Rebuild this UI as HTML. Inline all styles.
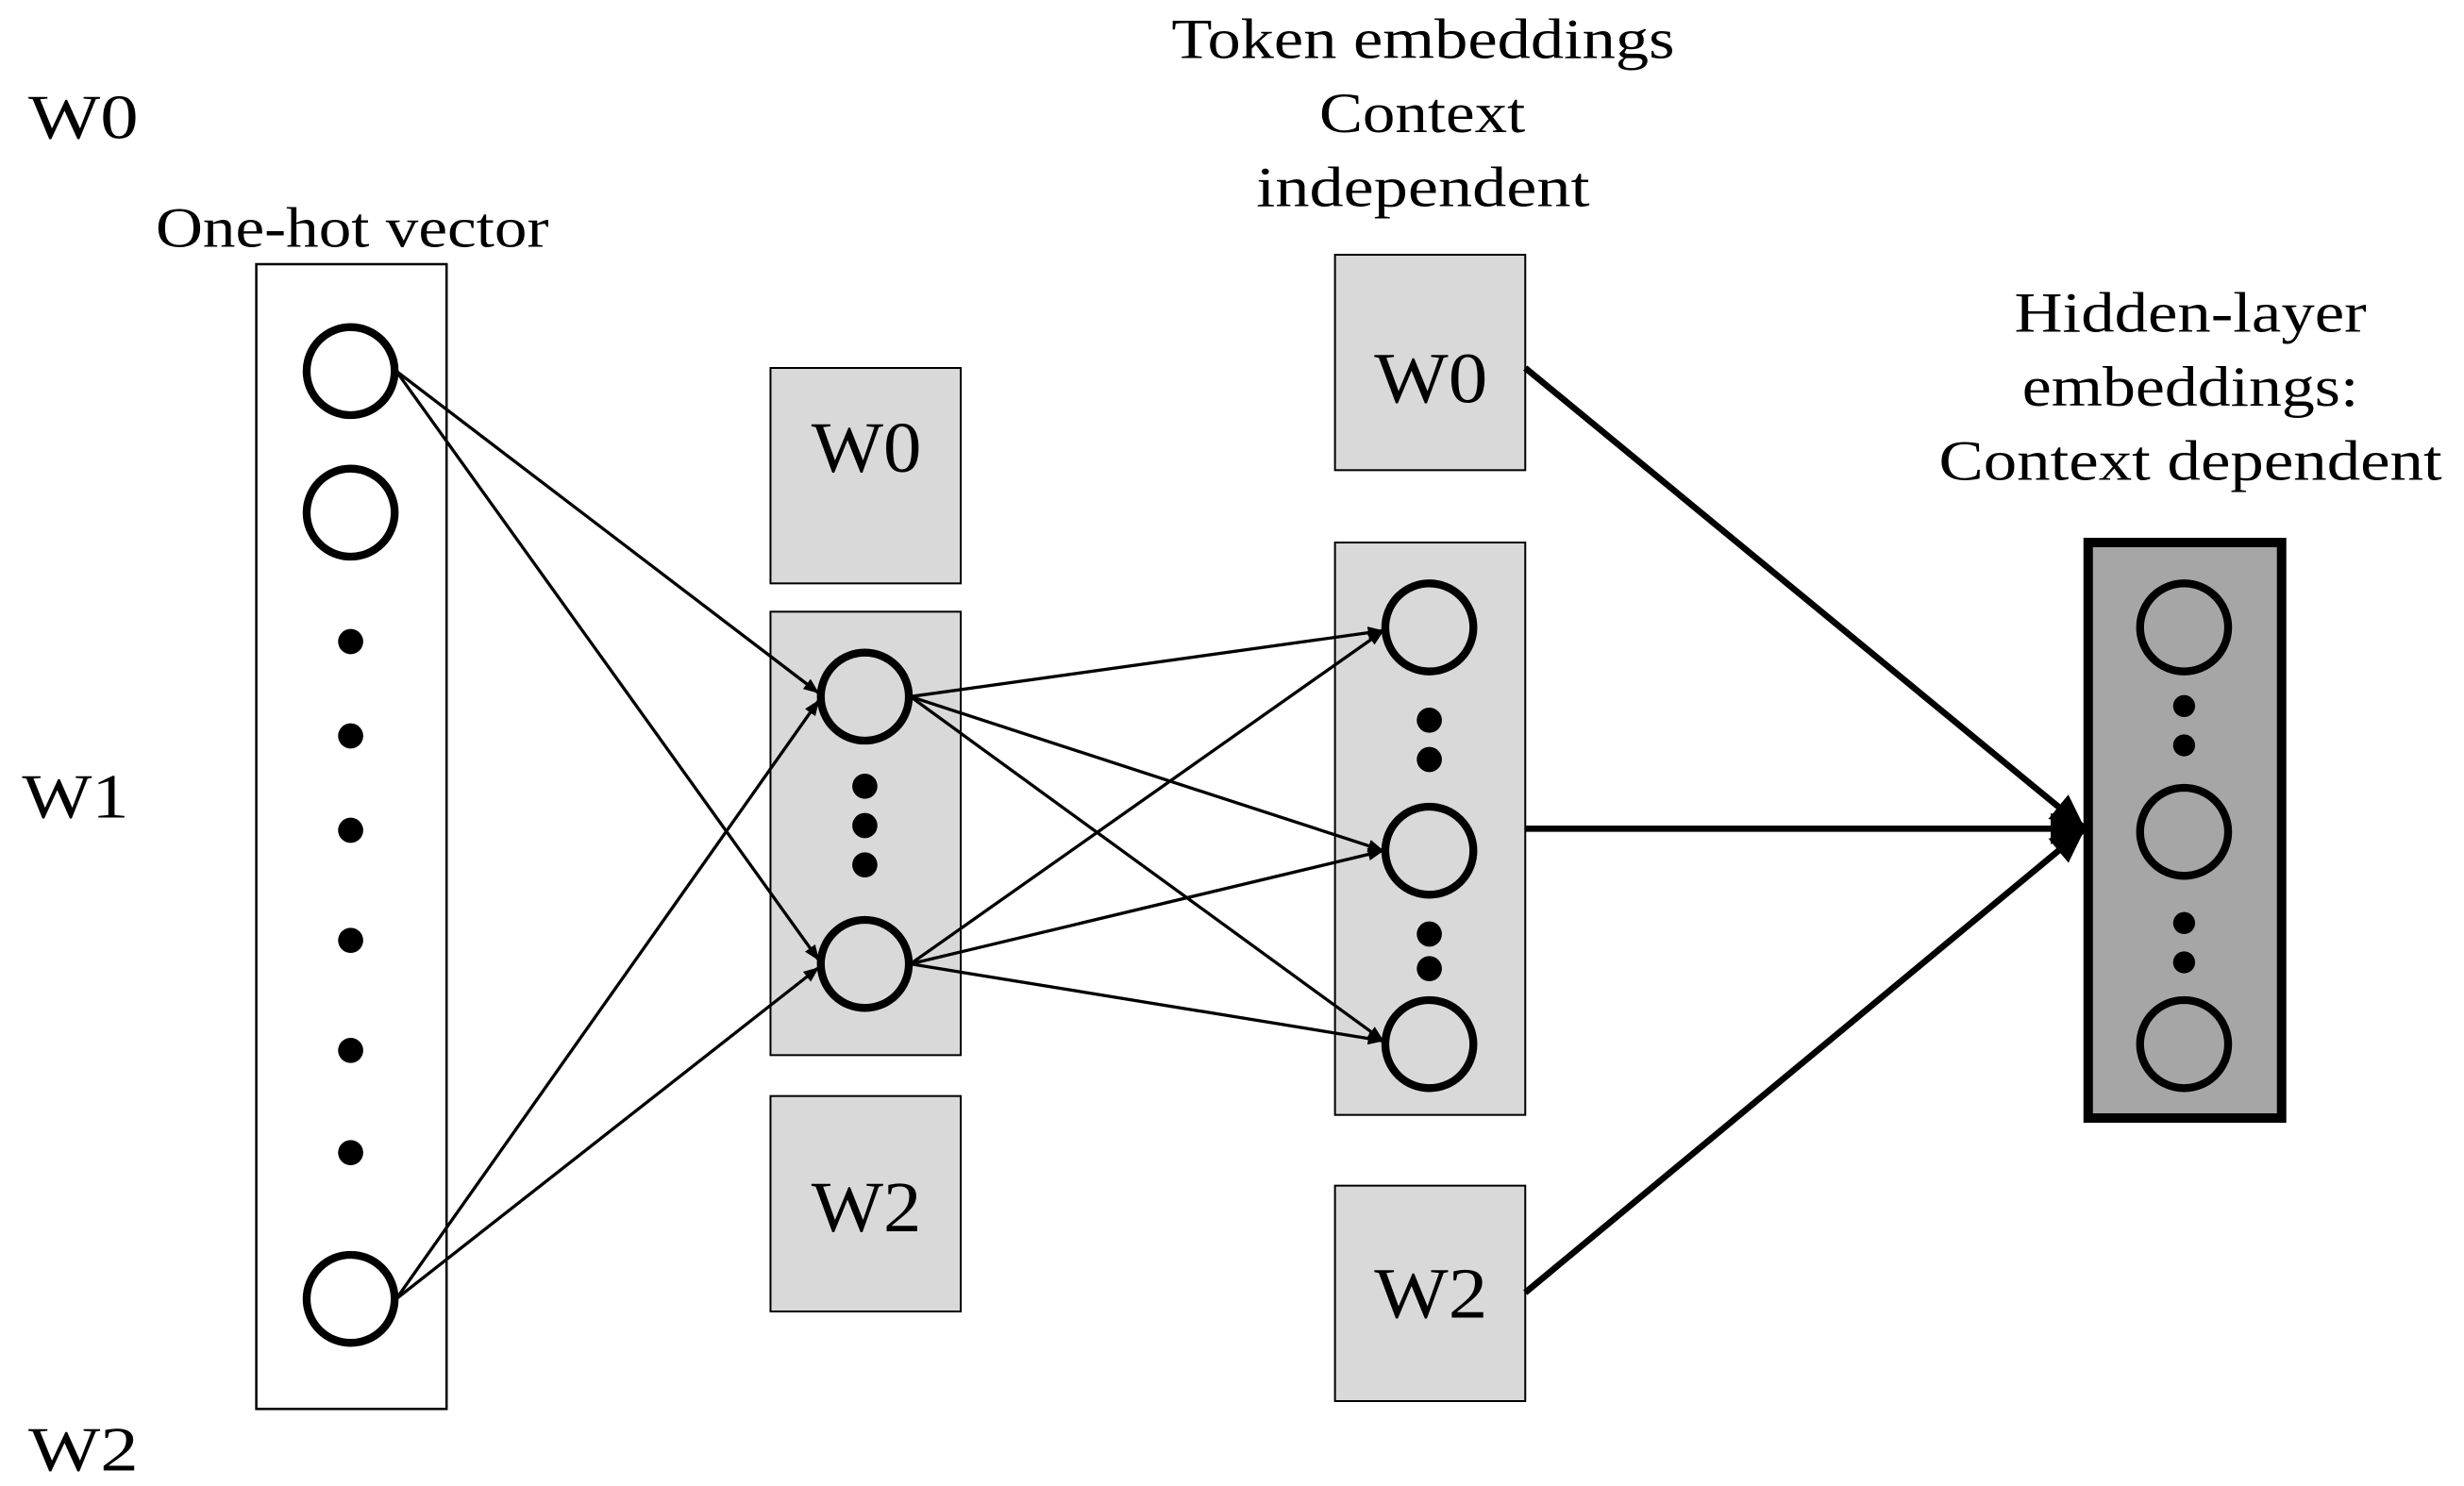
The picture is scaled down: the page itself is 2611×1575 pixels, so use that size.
<!DOCTYPE html>
<html><head><style>html,body{margin:0;padding:0;background:#fff}svg{display:block}</style></head>
<body>
<svg width="2611" height="1575" viewBox="0 0 1567 945" preserveAspectRatio="none" xmlns="http://www.w3.org/2000/svg" font-family="'Liberation Serif',serif">
<defs>
<marker id="a" markerWidth="10" markerHeight="8" refX="10" refY="4" orient="auto" markerUnits="userSpaceOnUse" viewBox="0 0 10 8"><path d="M0,0 L10,4 L0,8z" fill="#000"/></marker>
<marker id="b" markerWidth="22" markerHeight="20" refX="22" refY="10" orient="auto" markerUnits="userSpaceOnUse" viewBox="0 0 22 20"><path d="M0,0 L22,10 L0,20z" fill="#000"/></marker>
</defs>
<g font-size="40" fill="#000" lengthAdjust="spacingAndGlyphs">
<text x="18" y="88" textLength="70" lengthAdjust="spacingAndGlyphs">W0</text><text x="14" y="520" textLength="68" lengthAdjust="spacingAndGlyphs">W1</text><text x="18" y="935" textLength="70" lengthAdjust="spacingAndGlyphs">W2</text>
</g>
<g font-size="36">
<text x="99" y="157" textLength="250" lengthAdjust="spacingAndGlyphs">One-hot vector</text>
<text x="745" y="37" textLength="320" lengthAdjust="spacingAndGlyphs">Token embeddings</text><text x="839" y="84" textLength="131" lengthAdjust="spacingAndGlyphs">Context</text><text x="799" y="131" textLength="212" lengthAdjust="spacingAndGlyphs">independent</text>
<text x="1281" y="211" textLength="224" lengthAdjust="spacingAndGlyphs">Hidden-layer</text><text x="1286" y="258" textLength="214" lengthAdjust="spacingAndGlyphs">embeddings:</text><text x="1233" y="305" textLength="320" lengthAdjust="spacingAndGlyphs">Context dependent</text>
</g>
<rect x="163" y="168" width="121" height="728" fill="#fff" stroke="#000" stroke-width="1.5"/>
<g fill="#d9d9d9" stroke="#000" stroke-width="1.2">
<rect x="490" y="234" width="121" height="137"/><rect x="490" y="389" width="121" height="282"/><rect x="490" y="697" width="121" height="137"/>
<rect x="849" y="162" width="121" height="137"/><rect x="849" y="345" width="121" height="364"/><rect x="849" y="754" width="121" height="137"/>
</g>
<rect x="1328" y="345" width="123" height="366" fill="#a6a6a6" stroke="#000" stroke-width="6"/>
<g font-size="46">
<text x="516" y="300" textLength="70" lengthAdjust="spacingAndGlyphs">W0</text><text x="516" y="783" textLength="70" lengthAdjust="spacingAndGlyphs">W2</text><text x="874" y="256" textLength="72" lengthAdjust="spacingAndGlyphs">W0</text><text x="874" y="838" textLength="72" lengthAdjust="spacingAndGlyphs">W2</text>
</g>
<g stroke="#000" stroke-width="5">
<circle cx="223" cy="236" r="28" fill="#fff"/><circle cx="223" cy="326" r="28" fill="#fff"/><circle cx="223" cy="826" r="28" fill="#fff"/>
<circle cx="550" cy="443" r="28" fill="#d9d9d9"/><circle cx="550" cy="613" r="28" fill="#d9d9d9"/>
<circle cx="909" cy="399" r="28" fill="#d9d9d9"/><circle cx="909" cy="541" r="28" fill="#d9d9d9"/><circle cx="909" cy="664" r="28" fill="#d9d9d9"/>
<circle cx="1389" cy="399" r="28" fill="#a6a6a6"/><circle cx="1389" cy="529" r="28" fill="#a6a6a6"/><circle cx="1389" cy="664" r="28" fill="#a6a6a6"/>
</g>
<g fill="#000">
<circle cx="223" cy="408" r="8"/><circle cx="223" cy="468" r="8"/><circle cx="223" cy="528" r="8"/><circle cx="223" cy="598" r="8"/><circle cx="223" cy="668" r="8"/><circle cx="223" cy="733" r="8"/>
<circle cx="550" cy="500" r="8"/><circle cx="550" cy="525" r="8"/><circle cx="550" cy="550" r="8"/>
<circle cx="909" cy="458" r="8"/><circle cx="909" cy="483" r="8"/><circle cx="909" cy="594" r="8"/><circle cx="909" cy="616" r="8"/>
<circle cx="1389" cy="449" r="7"/><circle cx="1389" cy="474" r="7"/><circle cx="1389" cy="587" r="7"/><circle cx="1389" cy="612" r="7"/>
</g>
<g stroke="#000" stroke-width="2" marker-end="url(#a)">
<line x1="252" y1="236" x2="521" y2="441"/><line x1="252" y1="236" x2="521" y2="611"/>
<line x1="252" y1="826" x2="521" y2="445"/><line x1="252" y1="826" x2="521" y2="615"/>
<line x1="579" y1="443" x2="880" y2="401"/><line x1="579" y1="443" x2="880" y2="541"/><line x1="579" y1="443" x2="880" y2="662"/>
<line x1="579" y1="613" x2="880" y2="401"/><line x1="579" y1="613" x2="880" y2="541"/><line x1="579" y1="613" x2="880" y2="662"/>
</g>
<g stroke="#000" stroke-width="4" marker-end="url(#b)">
<line x1="970" y1="234" x2="1326" y2="527"/><line x1="970" y1="527" x2="1326" y2="527"/><line x1="970" y1="822" x2="1326" y2="527"/>
</g>
</svg>
</body></html>
